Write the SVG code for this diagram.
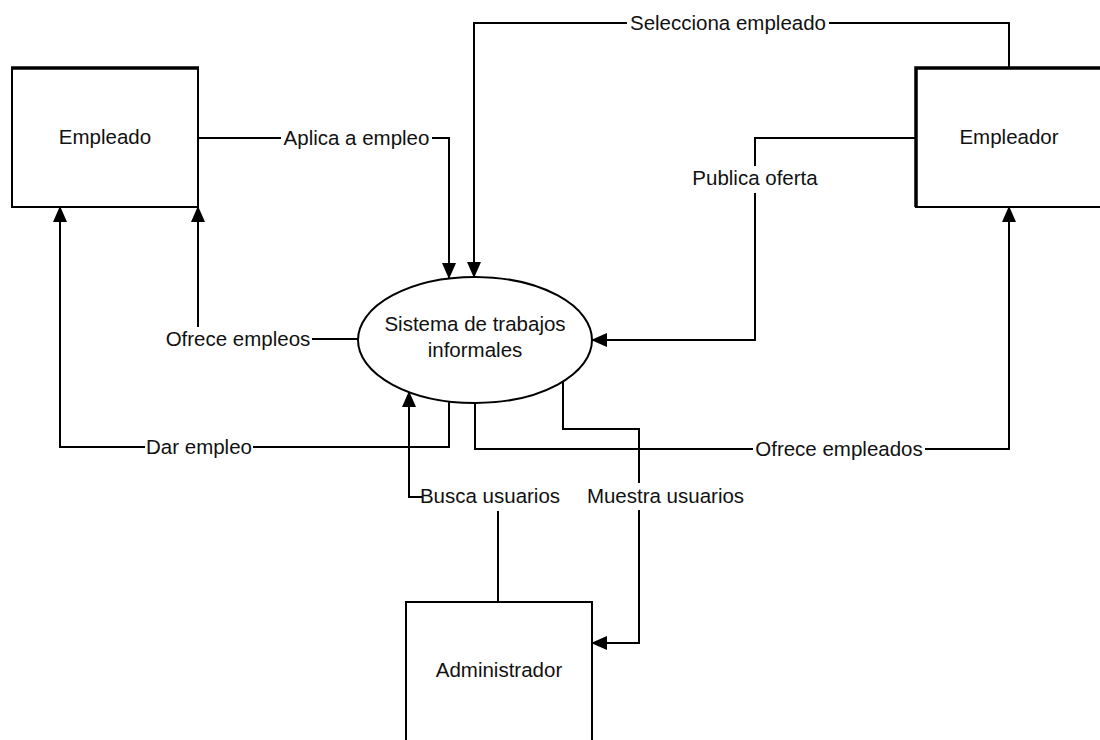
<svg xmlns="http://www.w3.org/2000/svg" width="1100" height="740" viewBox="0 0 1100 740">
<defs>
<marker id="arr" markerUnits="userSpaceOnUse" markerWidth="16" markerHeight="14" viewBox="0 0 16 14" refX="15" refY="7" orient="auto">
<path d="M0,0 L16,7 L0,14 z" fill="#000"/>
</marker>
<style>
.box{fill:#fff;stroke:#000;stroke-width:2}
.thick{stroke:#000;stroke-width:3.5;fill:none}
.t{font-family:"Liberation Sans",Arial,sans-serif;font-size:20.5px;fill:#111;text-anchor:middle}
.c{fill:none;stroke:#000;stroke-width:2}
.a{marker-end:url(#arr)}
</style>
</defs>
<rect width="1100" height="740" fill="#fff"/>
<g id="connectors">
<path class="c" d="M198,138 H281"/>
<path class="c a" d="M432,138 H449 V278"/>
<text class="t" x="356.5" y="145">Aplica a empleo</text>
<path class="c" d="M1009,68 V23 H829"/>
<path class="c a" d="M627,23 H474 V277"/>
<text class="t" x="728" y="30">Selecciona empleado</text>
<path class="c" d="M916,138 H755 V166"/>
<path class="c a" d="M755,193 V340 H592"/>
<text class="t" x="755" y="185">Publica oferta</text>
<path class="c" d="M358,339 H312"/>
<path class="c a" d="M198,327 V207"/>
<text class="t" x="238" y="346">Ofrece empleos</text>
<path class="c" d="M449,402 V447 H253"/>
<path class="c a" d="M145,447 H60 V207"/>
<text class="t" x="199" y="454">Dar empleo</text>
<path class="c" d="M475,403 V449 H753"/>
<path class="c a" d="M925,449 H1009 V207"/>
<text class="t" x="839" y="456">Ofrece empleados</text>
<path class="c" d="M498,602 V511"/>
<path class="c a" d="M422,497 H409 V392"/>
<text class="t" x="490" y="503">Busca usuarios</text>
<path class="c" d="M563,382 V429 H639 V483"/>
<path class="c a" d="M639,510 V643 H592"/>
<text class="t" x="665.5" y="503">Muestra usuarios</text>
</g>
<g id="empleado">
<rect class="box" x="12" y="68" width="186" height="139"/>
<path class="thick" d="M11,68 H199"/>
<text class="t" x="105" y="144">Empleado</text>
</g>
<g id="empleador">
<rect class="box" x="916" y="68" width="186" height="139"/>
<path class="thick" d="M916,207 V68 H1102"/>
<text class="t" x="1009" y="144">Empleador</text>
</g>
<g id="sistema">
<ellipse class="box" cx="475" cy="340" rx="117" ry="63"/>
<text class="t" x="475" y="331">Sistema de trabajos</text>
<text class="t" x="475" y="357">informales</text>
</g>
<g id="administrador">
<rect class="box" x="406" y="602" width="186" height="160"/>
<text class="t" x="499" y="677">Administrador</text>
</g>
</svg>
